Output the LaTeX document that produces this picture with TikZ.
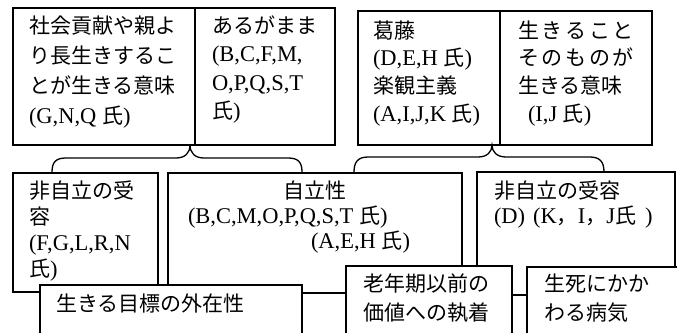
\documentclass[tikz,border=0pt]{standalone}
\usepackage{fontspec}
\setmainfont[Scale=1.07]{Liberation Serif}
\newfontfamily\jpf{Noto Sans CJK JP}
\newcommand{\J}[1]{{\jpf #1}}
\newcommand{\mystrut}{\rule{0pt}{17pt}}
\begin{document}
\begin{tikzpicture}[x=1pt,y=-1pt,
  box/.style={draw, line width=1.3pt, fill=white, inner sep=0pt, outer sep=0pt, anchor=north west},
  txt/.style={inner sep=0pt, outer sep=0pt, anchor=north west, align=left, font=\fontsize{21}{#1}\selectfont},
  txt/.default=29,
  brace/.style={line width=1.3pt}]
\useasboundingbox (0,0) rectangle (677,332);
\fill[white] (0,0) rectangle (677,332);
\clip (0,0) rectangle (677,332);
% top row
\node[box, minimum width=182, minimum height=137] (b1) at (13,8) {};
\node[box, minimum width=140, minimum height=137] (b2) at (195,8) {};
\node[box, minimum width=142, minimum height=134] (b3) at (358,11) {};
\node[box, minimum width=152, minimum height=134] (b4) at (500,11) {};
\node[txt=30] (t1) at (29,15.5) {\mystrut\J{社会貢献や親よ}\\\J{り長生きするこ}\\\J{とが生きる意味}\\(G,N,Q \J{氏})};
\node[txt=28.5] (t2) at (212,15.5) {\mystrut\J{あるがまま}\\(B,C,F,M,\\O,P,Q,S,T\\\J{氏})};
\node[txt=27.7] (t3) at (373,20.5) {\mystrut\J{葛藤}\\(D,E,H \J{氏})\\\J{楽観主義}\\(A,I,J,K \J{氏})};
\node[txt=27.7] (t4) at (518,20.5) {\mystrut\makebox[116pt][s]{\J{生}\hfill\J{き}\hfill\J{る}\hfill\J{こ}\hfill\J{と}}\\
  \makebox[116pt][s]{\J{そ}\hfill\J{の}\hfill\J{も}\hfill\J{の}\hfill\J{が}}\\
  \J{生きる意味}\\\hspace{10pt}(I,J \J{氏})};
% braces
\coordinate (k1) at (190,145);
\coordinate (k1l) at (52,172);
\coordinate (k1r) at (302,172);
\coordinate (k2) at (492,145);
\coordinate (k2l) at (354,172);
\coordinate (k2r) at (604,172);
\draw[brace] (k1l) .. controls (52,162) and (56,158) .. (66,158) -- (176,158)
  .. controls (185,158) and (190,153) .. (k1)
  .. controls (190,153) and (195,158) .. (204,158) -- (288,158)
  .. controls (298,158) and (302,162) .. (k1r);
\draw[brace] (k2l) .. controls (354,162) and (358,157) .. (368,157) -- (478,157)
  .. controls (487,157) and (492,152) .. (k2)
  .. controls (492,152) and (497,157) .. (506,157) -- (590,157)
  .. controls (600,157) and (604,162) .. (k2r);
% second row
\node[box, minimum width=145, minimum height=119] (b5) at (13,173) {};
\node[box, minimum width=294, minimum height=120] (b6) at (168,173) {};
\node[box, minimum width=198, minimum height=123] (b7) at (477,172) {};
\node[txt=26] (t5) at (29,180.5) {\mystrut\J{非自立の受}\\\J{容}\\(F,G,L,R,N\\\J{氏})};
\node[txt=25] (t6) at (188,180.5) {\mystrut\hspace{95pt}\J{自立性}\\(B,C,M,O,P,Q,S,T \J{氏})\\\hspace{123pt}(A,E,H \J{氏})};
\node[txt=25] (t7) at (494,180.5) {\mystrut\J{非自立の受容}\\(D)\hspace{8pt}(K\J{，}I\J{，}J\J{氏}\hspace{9pt})};
% third row
\node[box, minimum width=262, minimum height=60] (b8) at (40,285) {};
\node[box, minimum width=166, minimum height=80] (b9) at (346,266) {};
\node[box, minimum width=170, minimum height=80] (b10) at (527,267) {};
\node[txt] (t8) at (56,293.5) {\mystrut\J{生きる目標の外在性}};
\node[txt=29] (t9) at (363,273.5) {\mystrut\J{老年期以前の}\\\J{価値への執着}};
\node[txt=29] (t10) at (544,273.5) {\mystrut\J{生死にかか}\\\J{わる病気}};
\end{tikzpicture}
\end{document}
